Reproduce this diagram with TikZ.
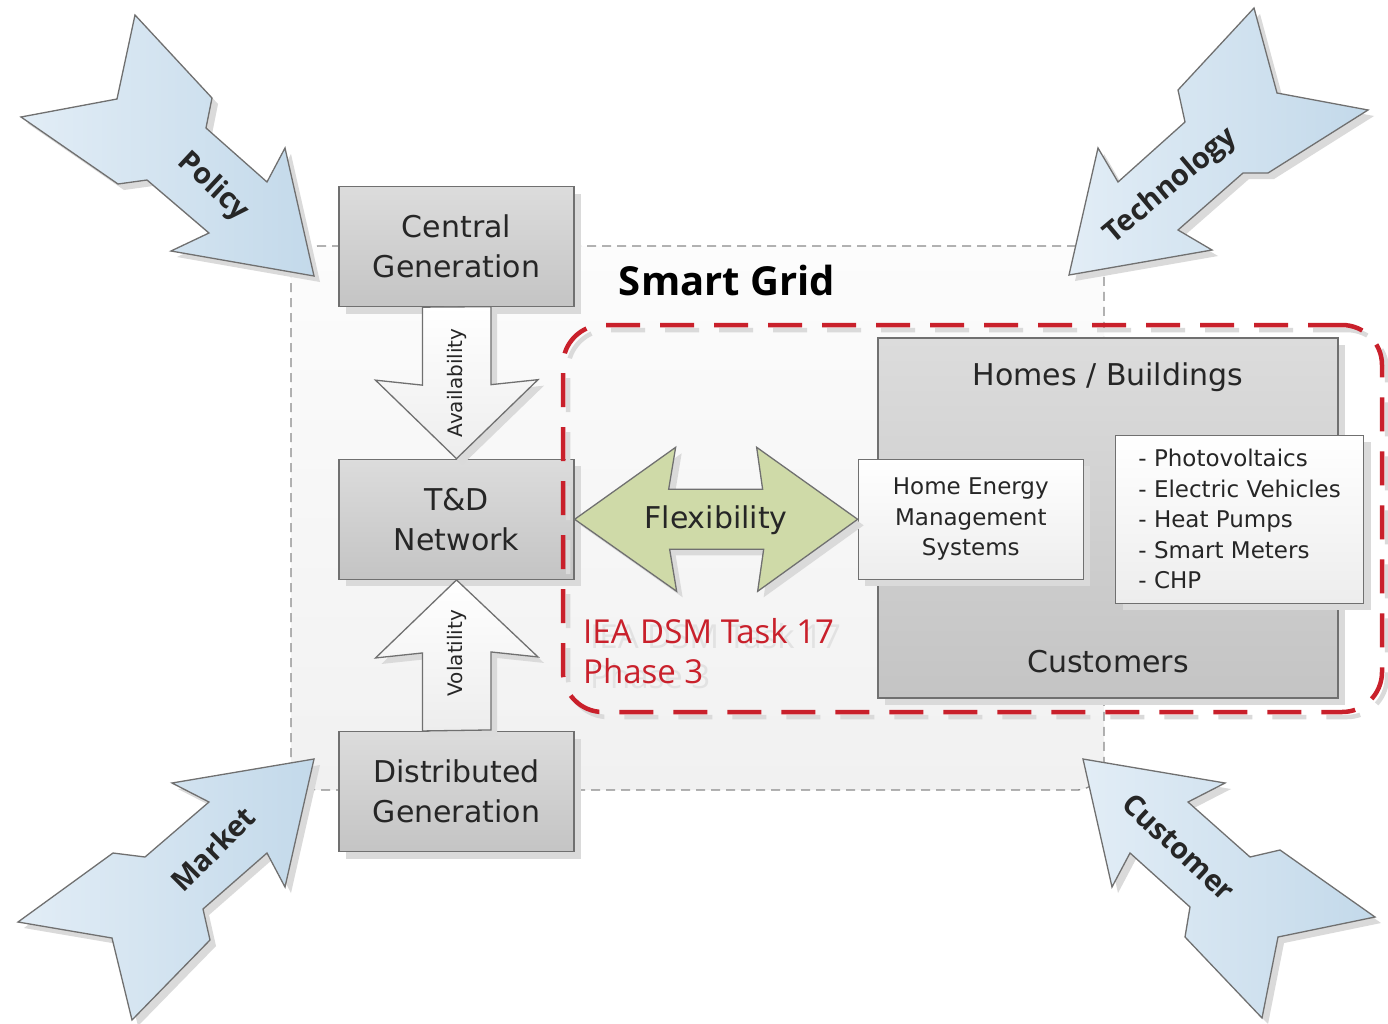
\documentclass[tikz,border=0pt]{standalone}
\usepackage{fontspec}
\setmainfont{DejaVu Sans}
\newfontfamily\headFont{Open Sans}
\usepackage{xcolor}
\definecolor{mainDark}{HTML}{262626}
\definecolor{boxLine}{HTML}{707070}
\definecolor{boxTop}{HTML}{DCDCDC}
\definecolor{boxBot}{HTML}{C4C4C4}
\definecolor{paleTop}{HTML}{FFFFFF}
\definecolor{paleBot}{HTML}{EDEDED}
\definecolor{gridTop}{HTML}{FCFCFC}
\definecolor{gridBot}{HTML}{F1F1F1}
\definecolor{gridLine}{HTML}{8A8A8A}
\definecolor{taskRed}{HTML}{C9202B}
\definecolor{flexGreen}{HTML}{CFDAA8}
\definecolor{forceLight}{HTML}{E2EDF6}
\definecolor{forceDark}{HTML}{C3D9EA}
\definecolor{shadeGray}{HTML}{DADADA}
\definecolor{ghostGray}{HTML}{E2E2E2}
\usetikzlibrary{positioning,calc,shadows}
\tikzset{%
  grayBox/.style={%
    rectangle,
    draw=boxLine,
    line width=1.3pt,
    top color=boxTop,
    bottom color=boxBot,
    text=mainDark,
    inner sep=0pt,
    minimum width=235pt,
    minimum height=120pt,
    align=center,
    font=\fontsize{30}{40}\selectfont,
    drop shadow={shadow xshift=7pt, shadow yshift=-7pt, fill=shadeGray, opacity=1}
  },
  paleBox/.style={%
    rectangle,
    draw=boxLine,
    line width=1.3pt,
    top color=paleTop,
    bottom color=paleBot,
    text=mainDark,
    inner sep=0pt,
    align=center,
    font=\fontsize{23}{30.5}\selectfont,
    drop shadow={shadow xshift=7pt, shadow yshift=-7pt, fill=shadeGray, opacity=1}
  },
  flowArrow/.style={%
    draw=boxLine,
    line width=1.3pt,
    top color=paleTop,
    bottom color=paleBot,
    drop shadow={shadow xshift=6pt, shadow yshift=-6pt, fill=shadeGray, opacity=1}
  },
  flexArrow/.style={%
    draw=boxLine,
    line width=1.3pt,
    fill=flexGreen,
    drop shadow={shadow xshift=6pt, shadow yshift=-6pt, fill=shadeGray, opacity=1}
  },
  forceArrow/.style={%
    draw=boxLine,
    line width=1.3pt,
    left color=forceLight,
    right color=forceDark,
    drop shadow={shadow xshift=6pt, shadow yshift=-6pt, fill=shadeGray, opacity=1}
  },
  forceLabel/.style={%
    text=mainDark,
    font=\headFont\bfseries\fontsize{29}{34}\selectfont
  },
  flowLabel/.style={%
    text=mainDark,
    rotate=90,
    font=\fontsize{20}{24}\selectfont
  },
  gridFrame/.style={%
    rectangle,
    rounded corners=28pt,
    draw=gridLine,
    line width=1.3pt,
    dash pattern=on 9pt off 6pt,
    top color=gridTop,
    bottom color=gridBot,
    minimum width=813pt,
    minimum height=544pt
  },
  taskFrame/.style={%
    rectangle,
    rounded corners=40pt,
    draw=taskRed,
    line width=4.5pt,
    dash pattern=on 34pt off 20pt,
    minimum width=819pt,
    minimum height=387pt
  },
  taskText/.style={%
    align=left,
    anchor=north west,
    inner sep=0pt,
    font=\headFont\fontsize{33}{40}\selectfont
  }
}

\begin{document}
\begin{tikzpicture}[x=1pt, y=-1pt, node distance=150pt]
  \useasboundingbox (0,0) rectangle (1388,1023);
  \fill[white] (0,0) rectangle (1388,1023);

  % smart grid area
  \node[gridFrame] (grid) at (697.5,518) {};
  \node[font=\headFont\bfseries\fontsize{40}{48}\selectfont, text=black] (gridTitle) at (727,280) {Smart Grid};

  % outside forces
  \draw[forceArrow] (135,15) -- (117,99) -- (21,117) -- (118,184) -- (147,180) -- (209,233) -- (171,251) -- (314,276) -- (285,148) -- (267,182) -- (206,128) -- (212,98) -- cycle;
  \node[forceLabel, rotate=-43] (policy) at (213,187) {Policy};
  \draw[forceArrow] (1254,8) -- (1277,93) -- (1368,110) -- (1268,173) -- (1243,173) -- (1178,230) -- (1212,250) -- (1069,275) -- (1098,148) -- (1118,182) -- (1185,122) -- (1178,90) -- cycle;
  \node[forceLabel, rotate=40] (technology) at (1171,186) {Technology};
  \draw[forceArrow] (314,759) -- (285,887) -- (267,853) -- (203,909) -- (210,940) -- (132,1020) -- (112,938) -- (18,922) -- (113,853) -- (145,857) -- (209,802) -- (172,783) -- cycle;
  \node[forceLabel, rotate=45] (market) at (213,849) {Market};
  \draw[forceArrow] (1083,759) -- (1225,783) -- (1188,802) -- (1250,857) -- (1280,850) -- (1375,917) -- (1278,937) -- (1262,1018) -- (1185,937) -- (1190,907) -- (1130,853) -- (1112,887) -- cycle;
  \node[forceLabel, rotate=-43] (customer) at (1179,847) {Customer};

  % supply side
  \node[grayBox] (cg) at (456.5,246.5) {Central\\Generation};
  \node[grayBox, below=151.5pt of cg] (td) {T\&D\\Network};
  \node[grayBox, below=151pt of td] (dg) {Distributed\\Generation};

  \draw[flowArrow] ($(cg.south)+(-34,0)$) -- ++(0,78) -- ++(-47,-5) -- (td.north) -- ++(81.5,-79) -- ++(-47,5) -- ++(0,-78) -- cycle;
  \node[flowLabel] (avail) at (457,383) {Availability};
  \draw[flowArrow] ($(dg.north)+(-34,0)$) -- ++(0,-78) -- ++(-47,5) -- (td.south) -- ++(81.5,77) -- ++(-47,-5) -- ++(0,78) -- cycle;
  \node[flowLabel] (volat) at (457,653) {Volatility};

  % customer side
  \node[grayBox, minimum width=460pt, minimum height=360pt] (homes) at (1108,518) {};
  \node[text=mainDark, font=\fontsize{30}{36}\selectfont] (homesTitle) at ($(homes.north)+(0,40)$) {Homes / Buildings};
  \node[text=mainDark, font=\fontsize{30}{36}\selectfont] (custTitle) at ($(homes.south)+(0,-37)$) {Customers};
  \node[paleBox, right=283pt of td, minimum width=225pt, minimum height=120pt] (hems) {Home Energy\\Management\\Systems};
  \node[paleBox, right=31pt of hems, minimum width=248pt, minimum height=168pt, align=left] (devices) {- Photovoltaics\\- Electric Vehicles\\- Heat Pumps\\- Smart Meters\\- CHP};

  \draw[flexArrow] (td.east) -- ++(101,-72) -- ++(-7,42) -- ++(94,0) -- ++(-6,-42) -- (hems.west) -- ++(-100,72) -- ++(6,-42) -- ++(-94,0) -- ++(7,42) -- cycle;
  \node[text=mainDark, font=\fontsize{30}{36}\selectfont] (flex) at (716,520) {Flexibility};

  % task scope
  \node[taskFrame, draw=shadeGray] (taskShade) at (977.5,523.5) {};
  \node[taskFrame] (task) at (972.5,518.5) {};
  \node[taskText, text=ghostGray] (taskGhost) at (590,623) {IEA DSM Task 17\\Phase 3};
  \node[taskText, text=taskRed] (taskName) at (583,618) {IEA DSM Task 17\\Phase 3};
\end{tikzpicture}
\end{document}
